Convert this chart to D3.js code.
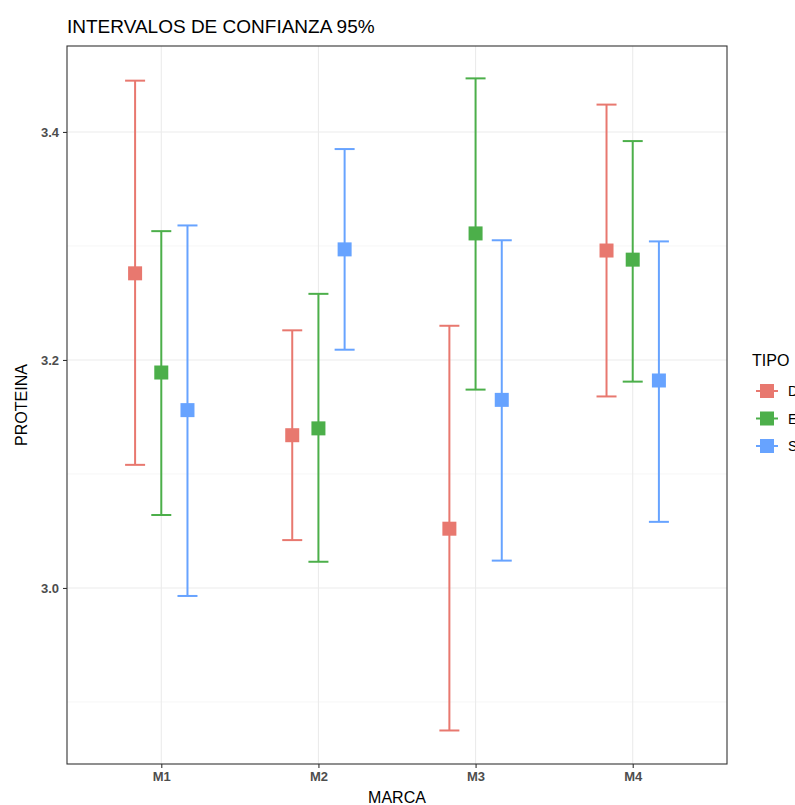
<!DOCTYPE html>
<html>
<head>
<meta charset="utf-8">
<script src="https://cdn.jsdelivr.net/npm/d3@7"></script>
<style>
  body { margin: 0; background: #fff; }
  text { font-family: "Liberation Sans", Arial, sans-serif; }
</style>
</head>
<body>
<div id="chart"></div>
<script>
// data
const marcas = ["M1", "M2", "M3", "M4"];
const tipos = ["D", "E", "S"];
const colores = ["#E8786F", "#4CAF4A", "#67A3FF"];
// mean, lower, upper for each marca, per tipo
const mediaD = [3.276, 3.134, 3.052, 3.296];
const lowD   = [3.108, 3.042, 2.875, 3.168];
const highD  = [3.445, 3.226, 3.230, 3.424];
const mediaE = [3.189, 3.140, 3.311, 3.288];
const lowE   = [3.064, 3.023, 3.174, 3.181];
const highE  = [3.313, 3.258, 3.447, 3.392];
const mediaS = [3.156, 3.297, 3.165, 3.182];
const lowS   = [2.993, 3.209, 3.024, 3.058];
const highS  = [3.318, 3.385, 3.305, 3.304];
const yTicks = [3.0, 3.2, 3.4];
const yMinor = [2.9, 3.1, 3.3];

const series = [
  { tipo: "D", media: mediaD, low: lowD, high: highD },
  { tipo: "E", media: mediaE, low: lowE, high: highE },
  { tipo: "S", media: mediaS, low: lowS, high: highS }
];
const rows = [];
series.forEach(s => marcas.forEach((m, i) => {
  rows.push({ marca: m, tipo: s.tipo, media: s.media[i], low: s.low[i], high: s.high[i] });
}));

const W = 795, H = 805;
const margin = { top: 46, right: 68, bottom: 41, left: 67 };
const width = W - margin.left - margin.right;
const height = H - margin.top - margin.bottom;

const svg = d3.select("#chart").append("svg")
  .attr("width", W).attr("height", H);
const g = svg.append("g")
  .attr("transform", `translate(${margin.left},${margin.top})`);

// discrete x like ggplot: expand 0.6 on each side
const xIdx = d3.scaleLinear().domain([0.4, 4.6]).range([0, width]);
const x = d3.scalePoint().domain(marcas).range([xIdx(1), xIdx(4)]);
const dodge = d3.scalePoint().domain(tipos).range([-1 / 6, 1 / 6]);
const y = d3.scaleLinear().domain([2.8456, 3.4754]).range([height, 0]);
const color = d3.scaleOrdinal().domain(tipos).range(colores);

// grid
g.selectAll(".minor").data(yMinor).enter().append("line")
  .attr("x1", 0).attr("x2", width)
  .attr("y1", d => y(d)).attr("y2", d => y(d))
  .attr("stroke", "#f0f0f0").attr("stroke-width", 0.6);
g.selectAll(".major").data(yTicks).enter().append("line")
  .attr("x1", 0).attr("x2", width)
  .attr("y1", d => y(d)).attr("y2", d => y(d))
  .attr("stroke", "#ebebeb").attr("stroke-width", 1.1);
g.selectAll(".vmajor").data(marcas).enter().append("line")
  .attr("x1", d => x(d)).attr("x2", d => x(d))
  .attr("y1", 0).attr("y2", height)
  .attr("stroke", "#ebebeb").attr("stroke-width", 1.1);

// error bars
const capW = 10;
const px = d => x(d.marca) + dodge(d.tipo) * (xIdx(2) - xIdx(1));
const bars = g.selectAll(".bar").data(rows).enter().append("g")
  .attr("stroke", d => color(d.tipo)).attr("stroke-width", 2).attr("fill", "none");
bars.append("line")
  .attr("x1", px).attr("x2", px)
  .attr("y1", d => y(d.low)).attr("y2", d => y(d.high));
bars.append("line")
  .attr("x1", d => px(d) - capW).attr("x2", d => px(d) + capW)
  .attr("y1", d => y(d.high)).attr("y2", d => y(d.high));
bars.append("line")
  .attr("x1", d => px(d) - capW).attr("x2", d => px(d) + capW)
  .attr("y1", d => y(d.low)).attr("y2", d => y(d.low));

const sq = 14;
g.selectAll(".pt").data(rows).enter().append("rect")
  .attr("x", d => px(d) - sq / 2).attr("y", d => y(d.media) - sq / 2)
  .attr("width", sq).attr("height", sq)
  .attr("fill", d => color(d.tipo));

// panel border
g.append("rect").attr("width", width).attr("height", height)
  .attr("fill", "none").attr("stroke", "#333").attr("stroke-width", 1.1);

// axes
const xAxis = g.append("g").attr("transform", `translate(0,${height})`)
  .call(d3.axisBottom(x).tickSize(4).tickPadding(4));
const yAxis = g.append("g")
  .call(d3.axisLeft(y).tickValues(yTicks).tickFormat(d3.format(".1f")).tickSize(4).tickPadding(4));
[xAxis, yAxis].forEach(a => {
  a.select(".domain").remove();
  a.selectAll(".tick line").attr("stroke", "#333").attr("stroke-width", 1.1);
  a.selectAll(".tick text").attr("fill", "#4d4d4d").attr("font-size", 13)
    .attr("font-weight", "bold").style("font-family", "Liberation Sans, Arial, sans-serif");
});

// titles
svg.append("text").attr("x", 67).attr("y", 33)
  .attr("font-size", 19).attr("fill", "#000").text("INTERVALOS DE CONFIANZA 95%");
svg.append("text").attr("x", margin.left + width / 2).attr("y", 803)
  .attr("text-anchor", "middle").attr("font-size", 16).text("MARCA");
svg.append("text")
  .attr("transform", `translate(27,${margin.top + height / 2}) rotate(-90)`)
  .attr("text-anchor", "middle").attr("font-size", 16).text("PROTEINA");

// legend
const leg = svg.append("g").attr("transform", "translate(752,0)");
leg.append("text").attr("x", 0).attr("y", 366).attr("font-size", 16).text("TIPO");
tipos.forEach((t, i) => {
  const cy = 391 + i * 27.5;
  const k = leg.append("g");
  k.append("line").attr("x1", 4).attr("x2", 26).attr("y1", cy).attr("y2", cy)
    .attr("stroke", color(t)).attr("stroke-width", 2);
  k.append("rect").attr("x", 8).attr("y", cy - 7).attr("width", 14).attr("height", 14)
    .attr("fill", color(t));
  k.append("text").attr("x", 36).attr("y", cy + 5).attr("font-size", 14).text(t);
});
</script>
</body>
</html>
